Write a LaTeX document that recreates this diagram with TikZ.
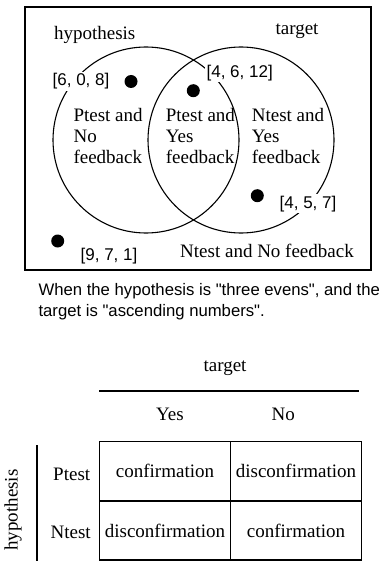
\documentclass[tikz,border=0pt]{standalone}
\usepackage{fontspec}
\setmainfont{Liberation Serif}
\setsansfont{Liberation Sans}[Ligatures=TeXOff]
\usetikzlibrary{positioning}

\tikzset{
  setring/.style={draw, circle, line width=1.1pt, minimum size=186pt, inner sep=0pt},
  member/.style={fill, circle, minimum size=13pt, inner sep=0pt},
  setname/.style={font=\fontsize{19}{21}\selectfont, anchor=base},
  tuple/.style={font=\sffamily\fontsize{17}{20}\selectfont, anchor=base, fill=white, inner sep=1.5pt},
  region/.style={font=\fontsize{19}{21}\selectfont, align=left, anchor=base west},
  cell/.style={draw, line width=1.6pt, outer sep=0pt, inner sep=0pt,
               minimum width=131pt, minimum height=59.2pt, font=\fontsize{19}{21}\selectfont},
}

\begin{document}
\begin{tikzpicture}[x=1pt, y=-1pt]
  \useasboundingbox (0,0) rectangle (379,561);
  % venn part
  \node[draw, line width=1.5pt, minimum width=346pt, minimum height=263pt] (frame) at (198,138.5) {};
  \node[setring] (hyp) at (146,140) {};
  \node[setring] (tgt) at (241,140) {};
  \node[setname] (hypname) at (94.7,40) {hypothesis};
  \node[setname] (tgtname) at (297,35) {target};

  % base of a multi-line node = last line
  \node[region] (ptno) at (70,163.3) {Ptest and\\No\\feedback};
  \node[region] (ptyes) at (162.3,163.3) {Ptest and\\Yes\\feedback};
  \node[region] (ntyes) at (248.3,163.3) {Ntest and\\Yes\\feedback};
  \node[setname] (ntno) at (267,257.3) {Ntest and No feedback};

  \node[member] (m1) at (131,81.5) {};
  \node[member] (m2) at (193.3,90.7) {};
  \node[member] (m3) at (257.3,195.7) {};
  \node[member] (m4) at (57.7,241) {};
  \node[tuple] (t1) at (81,86) {[6, 0, 8]};
  \node[tuple] (t2) at (239.7,77.3) {[4, 6, 12]};
  \node[tuple] (t3) at (308,208.3) {[4, 5, 7]};
  \node[tuple] (t4) at (109,260) {[9, 7, 1]};

  % caption
  \node[anchor=base west, align=left, font=\sffamily\fontsize{16.7}{21}\selectfont] (cap) at (35,316)
    {When the hypothesis is "three evens", and the\\target is "ascending numbers".};

  % table part
  \node[setname] (colhead) at (225,371.7) {target};
  \coordinate (hl) at (99.3,390.7);
  \coordinate (hr) at (359.3,390.7);
  \draw[line width=1.6pt] (hl) -- (hr);
  \node[setname] (yes) at (170,420) {Yes};
  \node[setname] (no) at (283.3,420) {No};

  \node[cell] (c11) at (165,471.2) {confirmation};
  \node[cell, right=0pt of c11] (c12) {disconfirmation};
  \node[cell, below=0pt of c11] (c21) {disconfirmation};
  \node[cell, below=0pt of c12] (c22) {confirmation};

  \node[setname] (ptest) at (71.7,480) {Ptest};
  \node[setname] (ntest) at (70.7,538.3) {Ntest};
  \coordinate (vt) at (36.7,445);
  \coordinate (vb) at (36.7,561);
  \draw[line width=1.6pt] (vt) -- (vb);
  \node[rotate=90, font=\fontsize{19}{21}\selectfont] (rowhead) at (13,510) {hypothesis};
\end{tikzpicture}
\end{document}
